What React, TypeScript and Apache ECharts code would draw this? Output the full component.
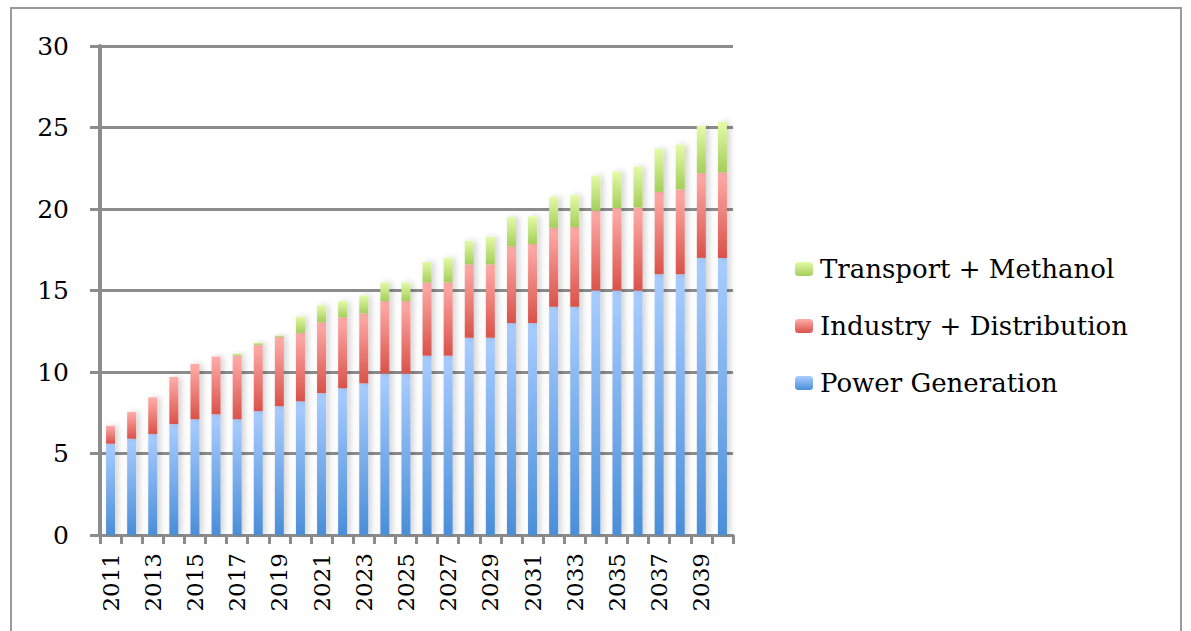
import React, { useEffect, useRef } from "react";
import * as echarts from "echarts";

const years = [
  "2011", "2012", "2013", "2014", "2015", "2016", "2017", "2018", "2019", "2020",
  "2021", "2022", "2023", "2024", "2025", "2026", "2027", "2028", "2029", "2030",
  "2031", "2032", "2033", "2034", "2035", "2036", "2037", "2038", "2039", "2040",
];

const powerGeneration = [
  5.6, 5.9, 6.2, 6.8, 7.1, 7.4, 7.1, 7.6, 7.9, 8.2,
  8.7, 9.0, 9.3, 9.9, 9.9, 11.0, 11.0, 12.1, 12.1, 13.0,
  13.0, 14.0, 14.0, 15.0, 15.0, 15.0, 16.0, 16.0, 17.0, 17.0,
];

const industryDistribution = [
  1.1, 1.65, 2.25, 2.9, 3.4, 3.55, 3.9, 4.05, 4.25, 4.2,
  4.35, 4.35, 4.3, 4.45, 4.45, 4.5, 4.5, 4.5, 4.5, 4.7,
  4.85, 4.85, 4.9, 4.9, 5.05, 5.1, 5.05, 5.2, 5.2, 5.25,
];

const transportMethanol = [
  0, 0, 0, 0, 0, 0, 0.13, 0.15, 0.1, 1.0,
  1.05, 1.0, 1.1, 1.15, 1.15, 1.25, 1.5, 1.45, 1.7, 1.8,
  1.7, 1.9, 1.95, 2.15, 2.25, 2.5, 2.65, 2.75, 2.9, 3.1,
];

const yTicks = [0, 5, 10, 15, 20, 25, 30];

const FONT = "DejaVu Serif";

function grad(top: string, bottom: string) {
  return new echarts.graphic.LinearGradient(0, 0, 0, 1, [
    { offset: 0, color: top },
    { offset: 1, color: bottom },
  ]);
}

export default function App() {
  const ref = useRef<HTMLDivElement>(null);

  useEffect(() => {
    if (!ref.current) return;
    const chart = echarts.init(ref.current, null, { renderer: "svg" });

    const shadow = {
      shadowColor: "rgba(0,0,0,0.18)",
      shadowBlur: 6,
      shadowOffsetX: 3,
      shadowOffsetY: 0,
    };

    chart.setOption({
      animation: false,
      backgroundColor: "#ffffff",
      graphic: [
        {
          type: "rect",
          shape: { x: 11, y: 8, width: 1170, height: 640 },
          style: { fill: "none", stroke: "#9a9a9a", lineWidth: 2 },
          silent: true,
        },
      ],
      grid: { left: 100, right: 458, top: 46, bottom: 96, containLabel: false },
      legend: {
        orient: "vertical",
        left: 790,
        top: 250,
        itemWidth: 18,
        itemHeight: 14,
        itemGap: 29,
        data: ["Transport + Methanol", "Industry + Distribution", "Power Generation"],
        textStyle: { fontFamily: FONT, fontSize: 26, color: "#000", lineHeight: 28, padding: [0, 0, 0, 2] },
      },
      xAxis: {
        type: "category",
        data: years,
        boundaryGap: true,
        axisLine: { show: true, lineStyle: { color: "#8c8c8c", width: 3 } },
        axisTick: { show: true, interval: 0, length: 9, lineStyle: { color: "#8c8c8c", width: 3 } },
        axisLabel: {
          interval: 1,
          rotate: 90,
          margin: 18,
          fontFamily: FONT,
          fontSize: 23,
          color: "#000",
        },
        splitLine: { show: false },
      },
      yAxis: {
        type: "value",
        min: 0,
        max: 30,
        interval: 5,
        axisLine: { show: true, lineStyle: { color: "#8c8c8c", width: 4 } },
        axisTick: { show: true, length: 10, lineStyle: { color: "#8c8c8c", width: 3 } },
        axisLabel: {
          margin: 31,
          fontFamily: FONT,
          fontSize: 25,
          color: "#000",
          formatter: (v: number) => (yTicks.includes(v) ? String(v) : ""),
        },
        splitLine: { show: true, lineStyle: { color: "#8c8c8c", width: 3 } },
      },
      series: [
        {
          name: "Power Generation",
          type: "bar",
          stack: "total",
          barWidth: 9,
          data: powerGeneration,
          itemStyle: { color: grad("#aacdff", "#4a8ed8"), ...shadow },
        },
        {
          name: "Industry + Distribution",
          type: "bar",
          stack: "total",
          barWidth: 9,
          data: industryDistribution,
          itemStyle: { color: grad("#ffadaa", "#d9524a"), ...shadow },
        },
        {
          name: "Transport + Methanol",
          type: "bar",
          stack: "total",
          barWidth: 9,
          data: transportMethanol,
          itemStyle: { color: grad("#e4faa8", "#a4ce5a"), ...shadow },
        },
      ],
    });

    return () => chart.dispose();
  }, []);

  return (
    <div
      ref={ref}
      style={{ position: "fixed", left: 0, top: 0, width: 1191, height: 631 }}
    />
  );
}
